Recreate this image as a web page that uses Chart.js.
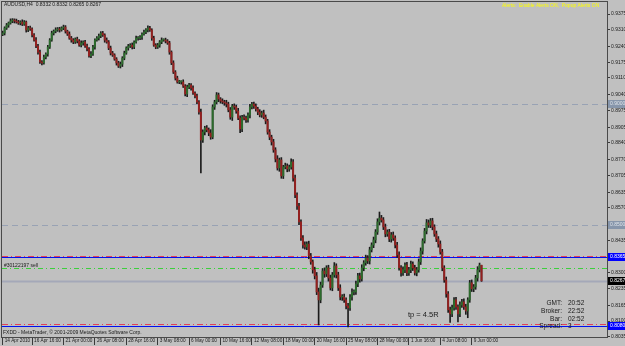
<!DOCTYPE html>
<html>
<head>
<meta charset="utf-8">
<script src="https://cdn.jsdelivr.net/npm/chart.js@4.4.1/dist/chart.umd.min.js"></script>
<style>
	html, body { margin: 0; padding: 0; background: #c0c0c0; }
	canvas { display: block; }
</style>
</head>
<body>
<canvas id="chart" width="625" height="346"></canvas>
<script>
// AUDUSD H4, one close per bar (open = previous close)
const firstOpen = 0.9283;
const closes = [
	0.9290, 0.9296, 0.9317, 0.9329, 0.9338, 0.9346, 0.9350, 0.9346, 0.9342, 0.9338,
	0.9342, 0.9333, 0.9342, 0.9309, 0.9317, 0.9313, 0.9288, 0.9267, 0.9242, 0.9217,
	0.9176, 0.9172, 0.9196, 0.9209, 0.9238, 0.9267, 0.9296, 0.9304, 0.9309, 0.9313,
	0.9309, 0.9317, 0.9321, 0.9304, 0.9292, 0.9275, 0.9267, 0.9259, 0.9271, 0.9263,
	0.9246, 0.9255, 0.9259, 0.9242, 0.9230, 0.9201, 0.9209, 0.9238, 0.9267, 0.9275,
	0.9284, 0.9296, 0.9288, 0.9267, 0.9259, 0.9234, 0.9213, 0.9205, 0.9188, 0.9172,
	0.9159, 0.9167, 0.9192, 0.9213, 0.9234, 0.9242, 0.9246, 0.9238, 0.9259, 0.9275,
	0.9275, 0.9279, 0.9292, 0.9300, 0.9309, 0.9317, 0.9309, 0.9275, 0.9246, 0.9238,
	0.9246, 0.9259, 0.9267, 0.9267, 0.9263, 0.9255, 0.9217, 0.9172, 0.9134, 0.9109,
	0.9093, 0.9093, 0.9093, 0.9076, 0.9043, 0.9072, 0.9080, 0.9068, 0.9047, 0.9035,
	0.9010, 0.8968, 0.8852, 0.8885, 0.8902, 0.8894, 0.8881, 0.8864, 0.8989, 0.9010,
	0.9039, 0.9022, 0.9014, 0.9010, 0.9006, 0.9001, 0.8977, 0.8947, 0.8993, 0.8989,
	0.8972, 0.8943, 0.8898, 0.8947, 0.8943, 0.8935, 0.8956, 0.8989, 0.9001, 0.8993,
	0.8981, 0.8968, 0.8956, 0.8964, 0.8947, 0.8931, 0.8885, 0.8864, 0.8844, 0.8811,
	0.8773, 0.8736, 0.8769, 0.8703, 0.8740, 0.8744, 0.8732, 0.8740, 0.8761, 0.8694,
	0.8624, 0.8578, 0.8512, 0.8445, 0.8416, 0.8408, 0.8420, 0.8371, 0.8346, 0.8313,
	0.8288, 0.8221, 0.8188, 0.8250, 0.8308, 0.8296, 0.8321, 0.8279, 0.8238, 0.8292,
	0.8329, 0.8292, 0.8238, 0.8200, 0.8200, 0.8188, 0.8163, 0.8155, 0.8200, 0.8221,
	0.8221, 0.8254, 0.8288, 0.8275, 0.8321, 0.8342, 0.8362, 0.8350, 0.8396, 0.8416,
	0.8437, 0.8470, 0.8512, 0.8528, 0.8520, 0.8491, 0.8462, 0.8470, 0.8441, 0.8458,
	0.8445, 0.8416, 0.8375, 0.8321, 0.8300, 0.8313, 0.8333, 0.8300, 0.8313, 0.8337,
	0.8321, 0.8300, 0.8313, 0.8346, 0.8391, 0.8433, 0.8474, 0.8508, 0.8499, 0.8516,
	0.8491, 0.8462, 0.8441, 0.8420, 0.8387, 0.8321, 0.8271, 0.8213, 0.8147, 0.8130,
	0.8155, 0.8188, 0.8159, 0.8130, 0.8167, 0.8180, 0.8159, 0.8142, 0.8188, 0.8259,
	0.8234, 0.8242, 0.8279, 0.8313, 0.8332, 0.8267,
];
// shadow lengths in pips above / below the body
const upWicks = [
	6, 8, 5, 7, 4, 9, 6, 5, 8, 7,
	5, 9, 6, 4, 7, 8, 5, 6, 10, 7,
	8, 6, 9, 5, 7, 6, 8, 5, 9, 6,
	7, 5, 8, 6, 4, 9, 7, 6, 5, 8,
	6, 9, 5, 7, 8, 6, 10, 7, 5, 6,
	8, 6, 7, 5, 9, 6, 8, 7, 5, 6,
	7, 9, 6, 8, 5, 7, 6, 9, 5, 8,
	6, 7, 5, 8, 6, 9, 7, 5, 8, 6,
	7, 6, 9, 5, 8, 6, 7, 5, 9, 6,
	8, 7, 5, 9, 6, 8, 7, 6, 9, 5,
	8, 6, 12, 9, 7, 10, 8, 14, 9, 7,
	10, 8, 6, 9, 7, 11, 8, 10, 7, 9,
	8, 12, 9, 7, 10, 8, 9, 11, 7, 8,
	9, 7, 10, 8, 12, 9, 7, 10, 8, 11,
	9, 14, 8, 10, 7, 12, 9, 8, 13, 10,
	12, 9, 11, 8, 10, 13, 9, 12, 10, 8,
	11, 14, 16, 12, 10, 13, 9, 11, 12, 10,
	14, 9, 11, 13, 10, 12, 9, 11, 10, 13,
	9, 12, 10, 11, 13, 9, 12, 10, 11, 9,
	12, 10, 13, 25, 11, 10, 12, 9, 11, 10,
	12, 9, 11, 13, 10, 12, 9, 11, 10, 12,
	9, 11, 10, 12, 13, 9, 11, 14, 12, 10,
	11, 9, 12, 10, 13, 11, 9, 12, 10, 11,
	12, 10, 11, 9, 13, 10, 12, 11, 9, 10,
	12, 10, 11, 13, 9, 0,
];
const downWicks = [
	7, 5, 8, 6, 9, 5, 7, 8, 5, 6,
	8, 6, 5, 9, 7, 6, 8, 5, 7, 9,
	6, 8, 5, 7, 9, 6, 5, 8, 7, 6,
	9, 5, 7, 8, 6, 5, 9, 7, 6, 8,
	5, 7, 9, 6, 8, 5, 7, 6, 9, 5,
	8, 7, 6, 9, 5, 7, 8, 6, 5, 9,
	6, 8, 10, 7, 5, 9, 6, 8, 7, 5,
	8, 6, 9, 5, 7, 8, 6, 9, 5, 7,
	6, 9, 7, 5, 8, 6, 9, 7, 6, 8,
	5, 7, 9, 6, 8, 11, 7, 9, 6, 8,
	7, 9, 137, 10, 12, 8, 11, 9, 7, 10,
	8, 11, 9, 7, 10, 12, 8, 9, 14, 10,
	9, 7, 16, 11, 8, 10, 9, 12, 8, 10,
	9, 11, 8, 10, 7, 12, 9, 11, 13, 10,
	12, 9, 14, 10, 11, 8, 12, 10, 9, 13,
	11, 14, 12, 10, 13, 9, 11, 12, 10, 14,
	13, 11, 104, 12, 10, 14, 11, 13, 9, 12,
	10, 13, 11, 12, 14, 10, 12, 79, 11, 13,
	12, 10, 11, 13, 9, 12, 10, 11, 13, 9,
	11, 12, 10, 13, 9, 11, 12, 10, 11, 13,
	10, 12, 11, 9, 13, 10, 12, 11, 10, 12,
	11, 9, 12, 10, 11, 13, 9, 12, 10, 11,
	12, 10, 11, 13, 9, 12, 10, 14, 11, 35,
	12, 10, 11, 33, 12, 10, 11, 14, 28, 10,
	11, 12, 10, 13, 9, 2,
];

const timeTickBars = [ 1, 16, 32, 48, 64, 80, 96, 112, 128, 144, 160, 176, 192, 208, 224, 240 ];
const timeTickLabels = [
	'14 Apr 2010', '16 Apr 16:00', '21 Apr 00:00', '26 Apr 08:00', '28 Apr 16:00', '3 May 08:00',
	'6 May 00:00', '10 May 16:00', '12 May 08:00', '18 May 00:00', '20 May 16:00', '25 May 08:00',
	'28 May 00:00', '1 Jun 16:00', '4 Jun 08:00', '9 Jun 00:00',
];
const priceTicks = [
	0.9375, 0.9310, 0.9240, 0.9175, 0.9110, 0.9040, 0.8975, 0.8905, 0.8840, 0.8770, 0.8705,
	0.8635, 0.8570, 0.8505, 0.8435, 0.8365, 0.8300, 0.8235, 0.8165, 0.8100, 0.8035,
];

const roundLevels = [ 0.9000, 0.8500 ];
const orderLevels = [ 0.8365, 0.8080 ];
const alertLevels = [ 0.8370, 0.8090 ];
const signalLevel = 0.8320;
const bidPrice = 0.8267;

const headerText = 'AUDUSD,H4  0.8332 0.8332 0.8265 0.8267';
const alertsText = 'Alerts:  Enable Alerts ON,  Popup Alerts ON';
const orderText = '#30122197 sell';
const tpText = 'tp = 4.5R';
const footerText = 'FXDD - MetaTrader, \u00a9 2001-2009 MetaQuotes Software Corp.';
const clockNames = [ 'GMT:', 'Broker:', 'Bar:', 'Spread:' ];
const clockValues = [ '20:52', '22:52', '02:52', '3' ];

const FONT = 'Liberation Sans, Arial, sans-serif';

const bodies = [];
const wicks = [];
const bodyColors = [];
let prev = firstOpen;
closes.forEach( ( close, i ) => {
	const open = prev;
	bodies.push( { x: i, y: [ open, close ] } );
	wicks.push( {
		x: i,
		y: [ Math.min( open, close ) - downWicks[ i ] / 10000, Math.max( open, close ) + upWicks[ i ] / 10000 ],
	} );
	bodyColors.push( close >= open ? '#2c6b2c' : '#94201f' );
	prev = close;
} );

const overlay = {
	id: 'overlay',
	beforeDatasetsDraw( chart ) {
		const { ctx, chartArea } = chart;
		const y = chart.scales.y;
		const hline = ( price, color, width, dash ) => {
			const py = Math.round( y.getPixelForValue( price ) ) + 0.5;
			ctx.save();
			ctx.strokeStyle = color;
			ctx.lineWidth = width;
			ctx.setLineDash( dash );
			ctx.beginPath();
			ctx.moveTo( chartArea.left, py );
			ctx.lineTo( chartArea.right, py );
			ctx.stroke();
			ctx.restore();
		};
		roundLevels.forEach( ( p ) => hline( p, '#98a2b4', 1, [ 6, 4 ] ) );
		hline( bidPrice, '#a4a8b8', 2, [] );
		hline( signalLevel, '#3ccf3c', 1, [ 5, 3, 1, 3 ] );
		orderLevels.forEach( ( p ) => hline( p, '#0010f0', 1, [] ) );
		alertLevels.forEach( ( p ) => hline( p, '#e0405a', 1, [ 6, 3, 1, 3 ] ) );
	},
	afterDraw( chart ) {
		const { ctx, chartArea } = chart;
		const y = chart.scales.y;
		ctx.save();
		// frame
		ctx.strokeStyle = '#4a4a4a';
		ctx.lineWidth = 1;
		ctx.strokeRect( chartArea.left - 0.5, chartArea.top - 0.5, chartArea.right - chartArea.left + 1, chartArea.bottom - chartArea.top + 1 );

		// price boxes on the axis
		const box = ( price, bg, fg ) => {
			const py = y.getPixelForValue( price );
			ctx.fillStyle = bg;
			ctx.fillRect( chartArea.right + 1, Math.round( py ) - 4, 18, 8 );
			ctx.fillStyle = fg;
			ctx.font = '5px ' + FONT;
			ctx.textAlign = 'left';
			ctx.textBaseline = 'middle';
			ctx.fillText( price.toFixed( 4 ), chartArea.right + 3, Math.round( py ) );
		};
		roundLevels.forEach( ( p ) => box( p, '#8796ab', '#dfe4ea' ) );
		orderLevels.forEach( ( p ) => box( p, '#0000ff', '#ffffff' ) );
		box( bidPrice, '#000000', '#ffffff' );

		// texts
		ctx.textBaseline = 'middle';
		ctx.textAlign = 'left';
		ctx.font = '5px ' + FONT;
		ctx.fillStyle = '#1a1a1a';
		ctx.fillText( headerText, 4, 5 );
		ctx.fillText( orderText, 4, y.getPixelForValue( orderLevels[ 0 ] ) + 8 );
		ctx.fillText( footerText, 3, 333 );
		ctx.fillStyle = '#ffff00';
		ctx.fillText( alertsText, 502, 6 );

		ctx.fillStyle = '#1a1a1a';
		ctx.font = '7.5px ' + FONT;
		ctx.fillText( tpText, 408, 315 );

		ctx.font = '6.5px ' + FONT;
		clockNames.forEach( ( name, i ) => {
			const ty = 303 + i * 7.9;
			ctx.textAlign = 'right';
			ctx.fillText( name, 562, ty );
			ctx.textAlign = 'left';
			ctx.fillText( clockValues[ i ], 568, ty );
		} );
		ctx.restore();
	},
};

new Chart( document.getElementById( 'chart' ), {
	type: 'bar',
	data: {
		datasets: [
			{
				data: bodies,
				backgroundColor: bodyColors,
				barThickness: 1.3,
				minBarLength: 1,
			},
			{
				data: wicks,
				backgroundColor: '#1c1c1c',
				barThickness: 1,
			},
		],
	},
	options: {
		responsive: false,
		animation: false,
		devicePixelRatio: 1,
		layout: { padding: { left: 2, top: 2, right: 0, bottom: 0 } },
		datasets: { bar: { grouped: false } },
		plugins: {
			legend: { display: false },
			tooltip: { enabled: false },
		},
		scales: {
			x: {
				type: 'linear',
				offset: false,
				min: 0.662,
				max: 308.94,
				afterBuildTicks( scale ) {
					scale.ticks = timeTickBars.map( ( v ) => ( { value: v } ) );
				},
				afterFit( scale ) {
					scale.height = 9;
					scale.paddingLeft = 0;
					scale.paddingRight = 0;
				},
				border: { display: false },
				grid: {
					offset: false,
					drawOnChartArea: false,
					tickLength: 8,
					color: '#3a3a3a',
				},
				ticks: {
					align: 'start',
					padding: -7,
					labelOffset: 2,
					maxRotation: 0,
					autoSkip: false,
					color: '#1a1a1a',
					font: { family: FONT, size: 4.7 },
					callback( val, index ) {
						return timeTickLabels[ index ];
					},
				},
			},
			y: {
				position: 'right',
				min: 0.8034,
				max: 0.9425,
				afterBuildTicks( scale ) {
					scale.ticks = priceTicks.map( ( v ) => ( { value: v } ) );
				},
				afterFit( scale ) {
					scale.width = 18;
					scale.paddingTop = 0;
					scale.paddingBottom = 0;
				},
				border: { display: false },
				grid: {
					drawOnChartArea: false,
					tickLength: 3,
					color: '#3a3a3a',
				},
				ticks: {
					padding: 1,
					autoSkip: false,
					color: '#1a1a1a',
					font: { family: FONT, size: 5 },
					callback( val ) {
						return val.toFixed( 4 );
					},
				},
			},
		},
	},
	plugins: [ overlay ],
} );
</script>
</body>
</html>
